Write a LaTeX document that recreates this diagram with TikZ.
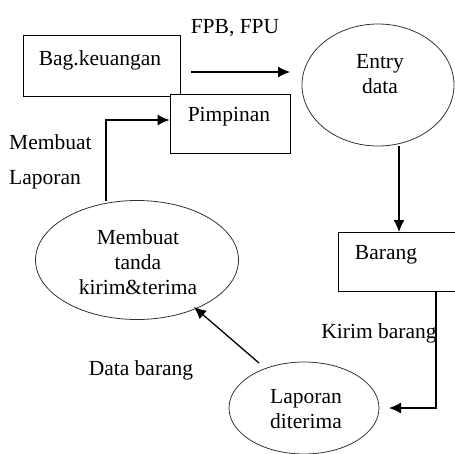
\documentclass[tikz,border=0pt]{standalone}
\usepackage{fontspec}
\newfontfamily\tnrfont{Liberation Serif}
\usetikzlibrary{arrows.meta,shapes.geometric}
\begin{document}
\begin{tikzpicture}[x=1pt,y=-1pt,
  box/.style={draw=black,line width=1pt,rectangle,inner sep=0pt},
  oval/.style={draw=black!80,line width=0.8pt,ellipse,inner sep=0pt},
  txt/.style={font=\tnrfont\fontsize{21.5}{25}\selectfont,align=center,inner sep=0pt},
  flow/.style={line width=1.3pt,-{Latex[length=12pt,width=11pt]}}]
\useasboundingbox (0,0) rectangle (455,453);
% boxes
\node[box,minimum width=157pt,minimum height=61pt] (bag) at (101.5,66) {};
\node[txt] (bagt) at (100,60) {Bag.keuangan};
\node[box,minimum width=120pt,minimum height=59pt,fill=white] (pim) at (230,124) {};
\node[txt] (pimt) at (229,117) {Pimpinan};
\node[box,minimum width=130pt,minimum height=59pt] (bar) at (403,262) {};
\node[txt] (bart) at (386,255) {Barang};
% ellipses
\node[oval,minimum width=152pt,minimum height=122pt] (ent) at (378,85) {};
\node[txt] (entt) at (380,74) {Entry\\data};
\node[oval,minimum width=203pt,minimum height=119pt] (mem) at (137,260) {};
\node[txt] (memt) at (138,262) {Membuat\\tanda\\kirim\&terima};
\node[oval,minimum width=150pt,minimum height=92pt] (lap) at (304,408) {};
\node[txt] (lapt) at (306,409) {Laporan\\diterima};
% labels
\node[txt] (l1) at (235,28) {FPB, FPU};
\node[txt,anchor=west] (l2) at (9,142) {Membuat};
\node[txt,anchor=west] (l3) at (9,180) {Laporan};
\node[txt] (l4) at (379,333) {Kirim barang};
\node[txt] (l5) at (141,370) {Data barang};
% coordinates
\coordinate (a1) at (191,72);
\coordinate (a2) at (290,72);
\coordinate (b1) at (399,146);
\coordinate (c1) at (436,291);
\coordinate (c2) at (436,408);
\coordinate (c3) at (389,408);
\coordinate (d1) at (259,363);
\coordinate (d2) at (194,307);
\coordinate (e1) at (106,201);
\coordinate (e2) at (106,120);
% connectors
\draw[flow] (a1) -- (a2);
\draw[flow] (b1) -- (b1 |- bar.north);
\draw[flow] (c1) -- (c2) -- (c3);
\draw[flow] (d1) -- (d2);
\draw[flow] (e1) -- (e2) -- (e2 -| pim.west);
\end{tikzpicture}
\end{document}
